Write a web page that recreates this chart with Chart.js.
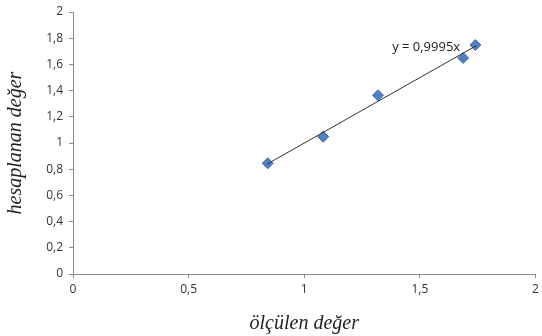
<!DOCTYPE html>
<html>
<head>
<meta charset="utf-8">
<script src="https://cdn.jsdelivr.net/npm/chart.js@4.4.1/dist/chart.umd.min.js"></script>
<style>
  html, body { margin: 0; padding: 0; background: #fff; }
  #wrap { width: 542px; height: 336px; }
</style>
</head>
<body>
<div id="wrap"><canvas id="chart"></canvas></div>
<script>
// measured (x) vs calculated (y)
const measured = [0.842, 1.082, 1.319, 1.687, 1.740];
const calculated = [0.845, 1.048, 1.364, 1.649, 1.748];

// trendline endpoints, y = 0,9995x
const trendX = [0.842, 1.745];
const trendY = [0.8416, 1.7441];
const trendLabel = 'y = 0,9995x';
const labelPos = [1.38, 1.733];

const xTitle = 'ölçülen değer';
const yTitle = 'hesaplanan değer';

const toComma = v => String(Math.round(v * 10) / 10).replace('.', ',');

const trendLabelPlugin = {
  id: 'trendLabel',
  afterDatasetsDraw(chart) {
    const ctx = chart.ctx;
    const x = chart.scales.x.getPixelForValue(labelPos[0]);
    const y = chart.scales.y.getPixelForValue(labelPos[1]);
    ctx.save();
    ctx.font = '13px "Open Sans"';
    ctx.fillStyle = '#222';
    ctx.textBaseline = 'middle';
    ctx.fillText(trendLabel, x, y);
    ctx.restore();
  }
};

new Chart(document.getElementById('chart'), {
  type: 'scatter',
  data: {
    datasets: [
      {
        type: 'line',
        data: trendX.map((x, i) => ({ x: x, y: trendY[i] })),
        borderColor: '#333',
        borderWidth: 1,
        pointRadius: 0,
        fill: false
      },
      {
        data: measured.map((x, i) => ({ x: x, y: calculated[i] })),
        pointStyle: 'rectRot',
        pointRadius: 5.5,
        backgroundColor: '#4F81BD',
        borderColor: '#3D6FAD',
        borderWidth: 1
      }
    ]
  },
  options: {
    responsive: true,
    maintainAspectRatio: false,
    animation: false,
    layout: { padding: 0 },
    plugins: { legend: { display: false }, tooltip: { enabled: false } },
    scales: {
      x: {
        type: 'linear',
        min: 0, max: 2,
        afterFit: s => { s.height = 62; s.paddingRight = 3.5; },
        ticks: { stepSize: 0.5, callback: toComma, color: '#333', font: { family: 'Open Sans', size: 12 }, padding: 4 },
        grid: { drawOnChartArea: false, drawTicks: true, tickLength: 4, color: '#8c8c8c' },
        border: { color: '#8c8c8c', width: 1 },
        title: { display: true, text: xTitle, color: '#222', font: { family: 'Liberation Serif', size: 20, style: 'italic' }, padding: { top: 4, bottom: 0 } }
      },
      y: {
        min: 0, max: 2,
        afterFit: s => { s.width = 73; s.paddingTop = 12; },
        ticks: { stepSize: 0.2, callback: toComma, color: '#333', font: { family: 'Open Sans', size: 12 }, padding: 6 },
        grid: { drawOnChartArea: false, drawTicks: true, tickLength: 4, color: '#8c8c8c' },
        border: { color: '#8c8c8c', width: 1 },
        title: { display: true, text: yTitle, color: '#222', font: { family: 'Liberation Serif', size: 20, style: 'italic' }, padding: { top: 4, bottom: 0 } }
      }
    }
  },
  plugins: [trendLabelPlugin]
});
</script>
</body>
</html>
